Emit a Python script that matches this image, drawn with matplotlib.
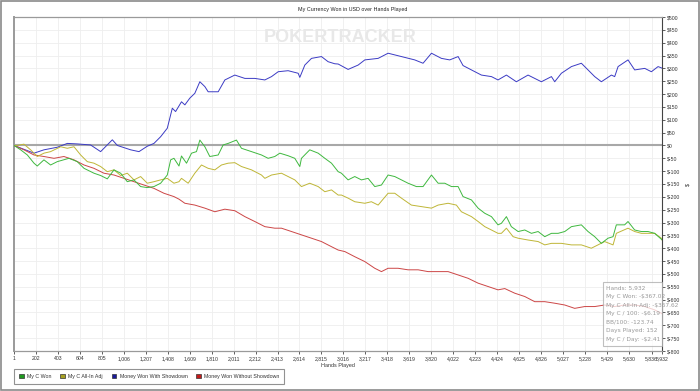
import matplotlib
matplotlib.use("Agg")
import matplotlib.pyplot as plt
from matplotlib.patches import Rectangle, Patch

plt.rcParams["font.family"] = ["Liberation Sans", "DejaVu Sans"]

# ---------------- data ----------------
hands_showdown = [1, 184, 275, 397, 489, 580, 702, 794, 901, 947, 1069, 1145, 1221, 1282, 1343, 1404,
                  1450, 1480, 1534, 1565, 1610, 1656, 1702, 1748, 1778, 1870, 1931, 2022, 2114, 2205,
                  2297, 2358, 2419, 2510, 2602, 2617, 2663, 2724, 2815, 2876, 2937, 2968, 3059, 3151,
                  3212, 3334, 3425, 3547, 3669, 3745, 3822, 3913, 3989, 4066, 4111, 4188, 4279, 4371,
                  4431, 4508, 4599, 4706, 4828, 4920, 4950, 5011, 5103, 5194, 5316, 5377, 5469, 5499,
                  5530, 5621, 5682, 5774, 5835, 5896, 5932]
won_showdown = [0, -30, -17, -7, 8, 6, 2, -24, 22, 0, -17, -24, -3, 8, 34, 67,
                145, 132, 170, 158, 184, 203, 248, 229, 209, 209, 255, 274, 261, 261,
                255, 268, 287, 291, 281, 265, 313, 339, 346, 326, 318, 317, 296, 313,
                333, 339, 359, 346, 333, 320, 359, 339, 333, 346, 311, 294, 274, 268,
                255, 274, 248, 274, 248, 268, 248, 281, 307, 320, 268, 248, 274, 268,
                307, 333, 294, 300, 287, 307, 301]

hands_won = [1, 62, 123, 184, 214, 275, 336, 397, 504, 580, 642, 733, 794, 855, 916, 977, 1038,
             1099, 1160, 1221, 1282, 1343, 1404, 1435, 1465, 1511, 1534, 1580, 1626, 1671, 1702,
             1748, 1793, 1870, 1915, 1961, 2037, 2083, 2175, 2266, 2327, 2388, 2434, 2510, 2571,
             2617, 2632, 2708, 2785, 2846, 2907, 2968, 2998, 3059, 3120, 3181, 3242, 3303, 3364,
             3425, 3486, 3547, 3608, 3684, 3745, 3822, 3883, 3944, 4005, 4066, 4111, 4188, 4249,
             4310, 4371, 4431, 4462, 4508, 4553, 4615, 4676, 4737, 4798, 4859, 4920, 4981, 5042,
             5103, 5194, 5255, 5316, 5377, 5438, 5484, 5514, 5590, 5621, 5682, 5743, 5804, 5865,
             5926, 5932]
won_total = [0, -17, -37, -69, -80, -56, -76, -63, -50, -63, -89, -108, -117, -130, -95, -108, -141,
             -134, -160, -164, -160, -147, -115, -56, -50, -80, -41, -69, -30, -24, 21,
             -5, -43, -37, 2, 8, 21, -11, -24, -37, -50, -43, -30, -40, -50,
             -82, -50, -17, -30, -50, -69, -102, -108, -134, -121, -134, -128, -160, -154,
             -115, -121, -134, -147, -160, -160, -115, -147, -147, -160, -160, -199, -212, -244,
             -264, -277, -309, -303, -277, -316, -335, -329, -342, -335, -355, -342, -342, -335,
             -316, -309, -335, -355, -381, -361, -355, -309, -309, -296, -329, -335, -335, -342,
             -365, -367.02]

hands_allin = [1, 31, 92, 153, 214, 275, 336, 428, 489, 550, 611, 672, 733, 794, 855, 916, 977,
               1038, 1099, 1160, 1221, 1282, 1343, 1404, 1465, 1511, 1534, 1595, 1656, 1717, 1778,
               1839, 1900, 1961, 2022, 2083, 2175, 2266, 2297, 2358, 2449, 2510, 2571, 2632, 2708,
               2785, 2846, 2907, 2968, 2998, 3059, 3120, 3212, 3272, 3334, 3425, 3486, 3547, 3638,
               3730, 3822, 3883, 3974, 4050, 4096, 4188, 4249, 4310, 4371, 4431, 4462, 4508, 4569,
               4615, 4706, 4798, 4859, 4920, 5011, 5103, 5194, 5285, 5346, 5407, 5484, 5514, 5621,
               5682, 5743, 5804, 5865, 5926, 5932]
won_allin = [0, 0, 5, -17, -43, -30, -24, -5, -11, -5, -37, -63, -69, -82, -102, -95, -117,
             -108, -134, -121, -147, -141, -134, -128, -147, -141, -128, -147, -108, -76, -89,
             -95, -76, -69, -67, -82, -95, -115, -128, -115, -108, -121, -134, -160, -147,
             -160, -180, -173, -193, -193, -205, -219, -225, -219, -232, -186, -186, -205, -232,
             -238, -244, -232, -225, -232, -258, -277, -296, -316, -329, -342, -342, -322, -355,
             -361, -368, -374, -387, -381, -381, -387, -387, -400, -387, -374, -387, -342, -322,
             -335, -342, -342, -342, -361, -367.62]

hands_nonsd = [1, 92, 184, 275, 367, 458, 550, 642, 733, 824, 916, 1008, 1099, 1191, 1282, 1373,
               1465, 1511, 1565, 1656, 1748, 1839, 1931, 2022, 2114, 2205, 2297, 2388, 2449, 2541,
               2632, 2724, 2815, 2907, 2968, 3029, 3120, 3212, 3303, 3364, 3425, 3516, 3608, 3700,
               3791, 3883, 3974, 4066, 4157, 4249, 4340, 4431, 4493, 4584, 4676, 4767, 4859, 4950,
               5042, 5133, 5224, 5316, 5407, 5499, 5590, 5682, 5774, 5865, 5926, 5932]
won_nonsd = [0, -17, -37, -43, -50, -43, -56, -76, -89, -108, -115, -128, -141, -154, -167, -186,
             -199, -209, -225, -232, -244, -258, -248, -254, -277, -296, -316, -322, -322, -335,
             -348, -361, -374, -394, -407, -413, -433, -452, -478, -491, -478, -478, -484, -484,
             -491, -491, -491, -504, -517, -536, -549, -562, -557, -575, -588, -608, -608, -614,
             -621, -634, -627, -627, -621, -627, -621, -621, -627, -640, -653, -655]

x_tick_values = [1, 202, 403, 604, 805, 1006, 1207, 1408, 1609, 1810, 2011, 2212, 2413, 2614,
                 2815, 3016, 3217, 3418, 3619, 3820, 4022, 4223, 4424, 4625, 4826, 5027, 5228,
                 5429, 5630, 5836, 5932]
y_tick_values = list(range(-800, 501, 50))

series_names = ["My C Won", "My C All-In Adj", "Money Won With Showdown", "Money Won Without Showdown"]
tooltip_lines = ["Hands: 5,932", "My C Won: -$367.02", "My C All-In Adj: -$367.62",
                 "My C / 100: -$6.19", "BB/100: -123.74", "Days Played: 152", "My C / Day: -$2.41"]

# ---------------- styling ----------------
line_colors = ["#3fb83f", "#bfb637", "#3b3bc4", "#cc4646"]
legend_colors = ["#1f9a1f", "#a6a020", "#1a1a9a", "#c41a1a"]

W, H = 700, 391
fig = plt.figure(figsize=(W / 100, H / 100), dpi=100)
fig.patch.set_facecolor("white")
ax = fig.add_axes([14 / W, 1 - 351 / H, 648 / W, 334 / H])

ax.set_xlim(1, 5932)
ax.set_ylim(-800, 500)
ax.grid(True, color="#eeeeee", lw=0.6, zorder=0)
ax.set_axisbelow(True)
ax.axhline(0, color="#a8a8a8", lw=1.5, zorder=1)

ax.plot(hands_showdown, won_showdown, color=line_colors[2], lw=0.7, zorder=3)
ax.plot(hands_nonsd, won_nonsd, color=line_colors[3], lw=0.7, zorder=3)
ax.plot(hands_allin, won_allin, color=line_colors[1], lw=0.7, zorder=3)
ax.plot(hands_won, won_total, color=line_colors[0], lw=0.7, zorder=4)

ax.yaxis.tick_right()
ax.yaxis.set_label_position("right")
ax.set_yticks(y_tick_values)
ax.set_yticklabels([f"${v}" for v in y_tick_values])
ax.set_xticks(x_tick_values)
ax.set_xticklabels([f"{v:,}" for v in x_tick_values])
ax.tick_params(axis="both", labelsize=3.7, length=2, width=0.6, color="#444444",
               labelcolor="#333333", pad=1.5)

for side in ["left", "top", "bottom"]:
    ax.spines[side].set_color("#9a9a9a")
ax.spines["left"].set_linewidth(1.4)
ax.spines["top"].set_linewidth(0.9)
ax.spines["bottom"].set_linewidth(0.9)
ax.spines["right"].set_color("#444444")
ax.spines["right"].set_linewidth(0.8)

ax.set_xlabel("Hands Played", fontsize=3.9, color="#333333", labelpad=1.5)
ax.set_ylabel("$", fontsize=4, color="#333333", labelpad=4, rotation=90)

fig.text(353 / W, 1 - 10 / H, "My Currency Won in USD over Hands Played", ha="center", va="center",
         fontsize=3.9, color="#222222")

# watermark
fig.text(340 / W, 1 - 38 / H, "POKERTRACKER", ha="center", va="center", fontsize=13,
         color="#e8e8e8", fontweight="bold", zorder=0)

# legend
handles = [Patch(facecolor=c, edgecolor="#333333", lw=0.5) for c in legend_colors]
leg = fig.legend(handles, series_names, loc="upper left", bbox_to_anchor=(14 / W, 1 - 369 / H),
                 borderaxespad=0, ncol=4, fontsize=3.8, frameon=True, fancybox=False,
                 edgecolor="#777777", handlelength=0.9, handleheight=0.9, handletextpad=0.6,
                 columnspacing=1.7, borderpad=0.9, labelcolor="#333333")
leg.get_frame().set_linewidth(0.8)

# tooltip box
fig.patches.append(Rectangle((603 / W, 1 - 346 / H), 59 / W, 64 / H, transform=fig.transFigure,
                             facecolor="white", alpha=0.75, edgecolor="#aaaaaa", lw=0.8, zorder=5))
for i, t in enumerate(tooltip_lines):
    fig.text(606 / W, 1 - (288 + 8.5 * i) / H, t, ha="left", va="center", fontsize=4.2,
             color="#9a9a9a", zorder=6, family="DejaVu Sans")

# outer border
fig.patches.append(Rectangle((1 / W, 1 / H), (W - 2) / W, (H - 2) / H, transform=fig.transFigure,
                             fill=False, edgecolor="#8a8a8a", lw=1.2))

fig.savefig("out.png", dpi=100, facecolor="white")
